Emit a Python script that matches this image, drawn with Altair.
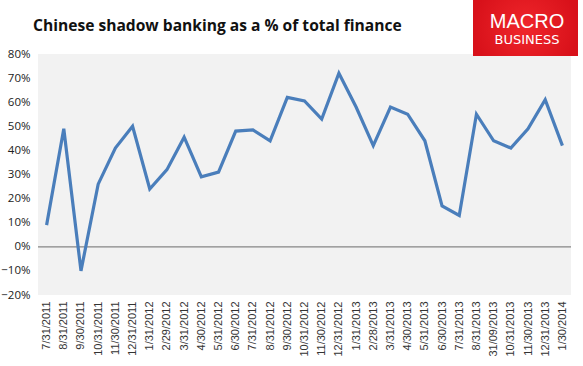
import altair as alt
import pandas as pd

dates = ["7/31/2011", "8/31/2011", "9/30/2011", "10/31/2011", "11/30/2011", "12/31/2011",
         "1/31/2012", "2/29/2012", "3/31/2012", "4/30/2012", "5/31/2012", "6/30/2012",
         "7/31/2012", "8/31/2012", "9/30/2012", "10/31/2012", "11/30/2012", "12/31/2012",
         "1/31/2013", "2/28/2013", "3/31/2013", "4/30/2013", "5/31/2013", "6/30/2013",
         "7/31/2013", "8/31/2013", "31/09/2013", "10/31/2013", "11/30/2013", "12/31/2013",
         "1/30/2014"]
share = [0.09, 0.49, -0.10, 0.26, 0.41, 0.50,
         0.24, 0.32, 0.455, 0.29, 0.31, 0.48,
         0.485, 0.44, 0.62, 0.605, 0.53, 0.72,
         0.58, 0.42, 0.58, 0.55, 0.44, 0.17,
         0.13, 0.55, 0.44, 0.41, 0.49, 0.61,
         0.42]
y_ticks = [-0.2, -0.1, 0.0, 0.1, 0.2, 0.3, 0.4, 0.5, 0.6, 0.7, 0.8]
title_text = "Chinese shadow banking as a % of total finance"

df = pd.DataFrame({"date": dates, "share": share})
zero_df = pd.DataFrame({"share": [0.0]})

W, H = 533, 241

y_scale = alt.Scale(domain=[-0.2, 0.8], nice=False, zero=False)
y_axis = alt.Axis(format=".0%", values=y_ticks, tickCount=11,
                  labelFont="Open Sans", labelFontSize=11.5, labelColor="#222222",
                  domain=False, ticks=False, grid=False, labelPadding=8,
                  labelOverlap=False, labelFlush=False)

line = alt.Chart(df).mark_line(color="#4A7EBB", strokeWidth=3.2).encode(
    x=alt.X("date:N", sort=dates, title=None,
            axis=alt.Axis(labelAngle=270, labelFont="Liberation Sans", labelFontSize=11,
                          labelColor="#333333", domain=False, ticks=False, labelPadding=6,
                          labelOverlap=False)),
    y=alt.Y("share:Q", scale=y_scale, title=None, axis=y_axis),
)

zero = alt.Chart(zero_df).mark_rule(color="#868686", strokeWidth=1.2).encode(
    y=alt.Y("share:Q", scale=y_scale, title=None, axis=y_axis),
)

title = alt.Chart(zero_df).mark_text(
    text=title_text, font="Open Sans", fontWeight="bold", fontSize=15.6,
    align="left", baseline="alphabetic", color="#111111"
).encode(x=alt.value(-5), y=alt.value(-23))

logo_bg = alt.Chart(zero_df).mark_rect(
    fill=alt.Gradient(gradient="radial",
                      stops=[alt.GradientStop(color="#F0262B", offset=0),
                             alt.GradientStop(color="#D8111A", offset=1)])
).encode(x=alt.value(435), x2=alt.value(540), y=alt.value(-54), y2=alt.value(2))

logo_t1 = alt.Chart(zero_df).mark_text(
    text="MACRO", font="Liberation Sans", fontSize=20, color="white", align="center",
    baseline="alphabetic"
).encode(x=alt.value(489), y=alt.value(-26))

logo_t2 = alt.Chart(zero_df).mark_text(
    text="BUSINESS", font="DejaVu Sans", fontSize=13, color="white", align="center",
    baseline="alphabetic"
).encode(x=alt.value(489), y=alt.value(-10))

chart = alt.layer(zero, line, title, logo_bg, logo_t1, logo_t2).properties(
    width=W, height=H,
    autosize=alt.AutoSizeParams(type="none"),
    padding={"left": 38, "top": 54, "right": 12, "bottom": 71},
    background="white",
).configure_view(fill="#F2F2F2", stroke=None)

chart.save("out.html", embed_options={"renderer": "svg", "actions": False})
